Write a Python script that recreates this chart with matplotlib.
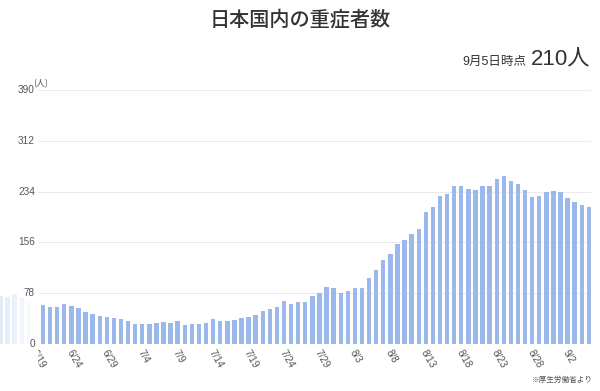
import matplotlib
matplotlib.use('Agg')
import matplotlib.pyplot as plt
import matplotlib.transforms as mtransforms
import numpy as np
import pandas as pd

plt.rcParams['font.family'] = ['Noto Sans CJK JP', 'DejaVu Sans']

# ---------------- data ----------------
start_date = '2020-06-14'
# 6/14 - 6/19 (scrolled-out, faded part of the chart)
faded_values = [74, 72, 77, 72, 65, 62]
# 6/20 - 9/5
values = [60, 57, 57, 61, 58, 56, 49, 46, 43, 42, 40,
          38, 35, 31, 30, 31, 32, 34, 33, 35, 29, 31, 30, 32, 38, 35, 35, 37, 40, 42, 44,
          50, 53, 57, 66, 62, 64, 65, 74, 79, 88, 86,
          78, 81, 86, 86, 102, 113, 129, 138, 154, 160, 169, 176, 203, 210, 227, 231, 242, 242,
          238, 236, 242, 242, 253, 258, 251, 245, 236, 226, 228, 233, 235,
          233, 224, 218, 213, 210]
tick_labels = ['6/19', '6/24', '6/29', '7/4', '7/9', '7/14', '7/19', '7/24', '7/29',
               '8/3', '8/8', '8/13', '8/18', '8/23', '8/28', '9/2']
y_ticks = [0, 78, 156, 234, 312, 390]

title = '日本国内の重症者数'
asof_label = '9月5日時点'
latest_label = '210人'
source_label = '※厚生労働省より'

# ---------------- layout ----------------
W, H = 600, 391
fig = plt.figure(figsize=(6, 3.91), dpi=100, facecolor='white')

def fx(px):
    return px / W

def fy(py):
    return 1 - py / H

num_family = ['Liberation Sans', 'Noto Sans CJK JP', 'DejaVu Sans']

all_vals = faded_values + values
dates = pd.date_range(start_date, periods=len(all_vals))
idx = np.arange(len(all_vals)) - len(faded_values)
date_str = [f"{d.month}/{d.day}" for d in dates]

ax = fig.add_axes([0, fy(344), fx(591), (344 - 90) / H])
ax.bar(idx, all_vals, width=0.62, color='#9ab8eb', zorder=2, linewidth=0)
ax.set_xlim(-6.065, 77.3)
ax.set_ylim(0, 390)
for y in y_ticks[1:]:
    ax.hlines(y, -0.7, 77.3, color='#ebebeb', lw=0.8, zorder=1)
ax.axis('off')

# x tick labels (rotated)
for lab in tick_labels:
    pos = idx[date_str.index(lab)]
    ax.annotate(lab, xy=(pos, 0), xycoords='data', xytext=(2, -4),
                textcoords='offset pixels', rotation=-60, rotation_mode='anchor',
                ha='left', va='top', fontsize=7.2, color='#555555',
                family=num_family, annotation_clip=False)

# left white fade overlay (sticky y-axis area)
ov = fig.add_axes([0, 0, fx(38), fy(85)])
ov.set_zorder(1)
xs = np.linspace(0, 38, 200)
alpha = np.interp(xs, [0, 22, 30, 34, 38], [0.72, 0.86, 0.95, 1.0, 1.0])
img = np.ones((1, len(xs), 4))
img[0, :, 3] = alpha
ov.imshow(img, aspect='auto', extent=[0, 38, 0, 1], interpolation='bilinear')
ov.axis('off')

# y tick labels on top of the overlay
trans = mtransforms.blended_transform_factory(fig.transFigure, ax.transData)
for y in y_ticks:
    fig.text(fx(35), y, str(y), transform=trans, ha='right', va='center',
             fontsize=7.2, color='#555555', zorder=5, family=num_family)
fig.text(fx(33), fy(84), '(人)', ha='left', va='center', fontsize=6.5,
         color='#555555', zorder=5)

# titles and notes
fig.text(0.5, fy(20), title, ha='center', va='center', fontsize=14.5,
         fontweight='medium', color='#333333')
fig.text(fx(590), fy(65), latest_label, ha='right', va='baseline', fontsize=16,
         color='#333333', family=num_family)
fig.text(fx(526), fy(65), asof_label, ha='right', va='baseline', fontsize=9,
         color='#333333', family=num_family)
fig.text(fx(593), fy(380), source_label, ha='right', va='center', fontsize=5.5,
         color='#555555')

fig.savefig('out.png', dpi=100, facecolor='white')
